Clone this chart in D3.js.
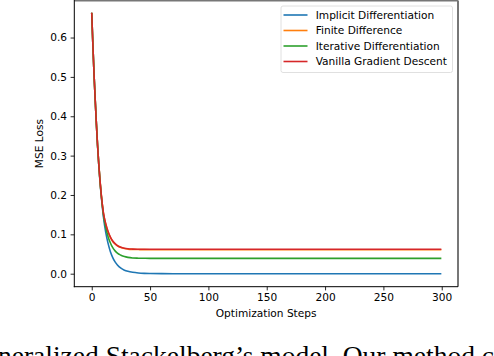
<!DOCTYPE html>
<html><head><meta charset="utf-8">
<script src="https://cdn.jsdelivr.net/npm/d3@7"></script>
<style>html,body{margin:0;padding:0;background:#fff;overflow:hidden}</style>
</head><body>
<script>
const steps = [0,1,2,3,4,5,6,7,8,9,10,12,14,16,18,20,22,25,28,31,35,40,45,50,60,80,100,150,200,250,299];
const implicitDiff = [0.661,0.58,0.505,0.44,0.38,0.325,0.278,0.237,0.202,0.172,0.145,0.105,0.077,0.056,0.041,0.030,0.022,0.014,0.009,0.006,0.0035,0.0017,0.0008,0.0004,0.0001,0,0,0,0,0,0];
const finiteDiff = [0.661,0.58,0.505,0.44,0.38,0.326,0.28,0.24,0.206,0.178,0.154,0.126,0.106,0.092,0.082,0.0755,0.071,0.0665,0.0638,0.0625,0.0617,0.0613,0.0611,0.061,0.061,0.061,0.061,0.061,0.061,0.061,0.061];
const iterativeDiff = [0.661,0.58,0.505,0.44,0.38,0.325,0.279,0.238,0.204,0.175,0.15,0.117,0.094,0.078,0.066,0.058,0.052,0.047,0.0435,0.0415,0.0400,0.0394,0.0391,0.039,0.039,0.039,0.039,0.039,0.039,0.039,0.039];
const vanillaGD = [0.661,0.58,0.505,0.44,0.38,0.326,0.28,0.24,0.206,0.178,0.155,0.127,0.107,0.093,0.083,0.0765,0.0715,0.067,0.0645,0.0632,0.0625,0.0622,0.0621,0.062,0.062,0.062,0.062,0.062,0.062,0.062,0.062];
const seriesNames = ["Implicit Differentiation","Finite Difference","Iterative Differentiation","Vanilla Gradient Descent"];
const seriesColors = ["#1f77b4","#ff7f0e","#2ca02c","#d62728"];
const seriesValues = [implicitDiff, finiteDiff, iterativeDiff, vanillaGD];
const xTicks = [0,50,100,150,200,250,300];
const yTicks = [0.0,0.1,0.2,0.3,0.4,0.5,0.6];
const caption = "neralized Stackelberg\u2019s model. Our method c";

const W = 494, H = 356;
const svg = d3.select("body").append("svg").attr("width", W).attr("height", H)
  .style("font-family", "'DejaVu Sans', sans-serif");

const L = 74.3, R = 458, T = 0.5, B = 286.7;
const x = d3.scaleLinear().domain([-14.95, 313.95]).range([L, R]);
const y = d3.scaleLinear().domain([-0.03305, 0.6941]).range([B, T]);

const fs = 10.6;
const xAxis = svg.append("g").attr("transform", `translate(0,${B})`)
  .call(d3.axisBottom(x).tickValues(xTicks).tickFormat(d3.format("d")).tickSize(3.7).tickPadding(3.5));
const yAxis = svg.append("g").attr("transform", `translate(${L},0)`)
  .call(d3.axisLeft(y).tickValues(yTicks).tickFormat(d3.format(".1f")).tickSize(3.7).tickPadding(3.5));
[xAxis, yAxis].forEach(g => {
  g.select(".domain").remove();
  g.selectAll("text").style("font-family", "'DejaVu Sans', sans-serif").style("font-size", fs + "px").attr("fill", "#000");
  g.selectAll("line").attr("stroke", "#000").attr("stroke-width", 0.85);
});

const clip = svg.append("clipPath").attr("id", "clip").append("rect")
  .attr("x", L).attr("y", T).attr("width", R - L).attr("height", B - T);
const line = d3.line().x((d, i) => x(steps[i])).y(d => y(d)).curve(d3.curveMonotoneX);
const lg = svg.append("g").attr("clip-path", "url(#clip)");
seriesValues.forEach((vals, k) => {
  lg.append("path").datum(vals).attr("d", line).attr("fill", "none")
    .attr("stroke", seriesColors[k]).attr("stroke-width", 1.6).attr("stroke-linejoin", "round").attr("stroke-linecap", "square");
});

svg.append("line").attr("x1", L).attr("x2", R).attr("y1", T).attr("y2", T).attr("stroke", "#777").attr("stroke-width", 2);
svg.append("line").attr("x1", R).attr("x2", R).attr("y1", T).attr("y2", B).attr("stroke", "#777").attr("stroke-width", 2);
svg.append("line").attr("x1", L).attr("x2", L).attr("y1", 0).attr("y2", B + 0.5).attr("stroke", "#000").attr("stroke-width", 1);
svg.append("line").attr("x1", L - 0.5).attr("x2", R).attr("y1", B).attr("y2", B).attr("stroke", "#000").attr("stroke-width", 1);

svg.append("text").attr("x", (L + R) / 2).attr("y", 316.5).attr("text-anchor", "middle")
  .style("font-size", fs + "px").text("Optimization Steps");
svg.append("text").attr("transform", `translate(43,${(T + B) / 2}) rotate(-90)`).attr("text-anchor", "middle")
  .style("font-size", fs + "px").text("MSE Loss");

const leg = svg.append("g");
leg.append("rect").attr("x", 281).attr("y", 6).attr("width", 171.5).attr("height", 66.5).attr("rx", 2)
  .attr("fill", "#fff").attr("fill-opacity", 0.8).attr("stroke", "#ddd").attr("stroke-width", 0.9);
const rowY = [15, 30.5, 46, 61.5];
seriesNames.forEach((n, k) => {
  leg.append("line").attr("x1", 283.5).attr("x2", 307.5).attr("y1", rowY[k]).attr("y2", rowY[k])
    .attr("stroke", seriesColors[k]).attr("stroke-width", 1.6);
  leg.append("text").attr("x", 315.7).attr("y", rowY[k]).attr("dy", "0.36em")
    .style("font-size", fs + "px").text(n);
});

svg.append("text").attr("x", -2).attr("y", 365).attr("textLength", 496).attr("lengthAdjust", "spacingAndGlyphs")
  .style("font-family", "'Liberation Serif', 'Times New Roman', serif")
  .style("font-size", "27.5px").attr("fill", "#000").text(caption);
</script>
</body></html>
